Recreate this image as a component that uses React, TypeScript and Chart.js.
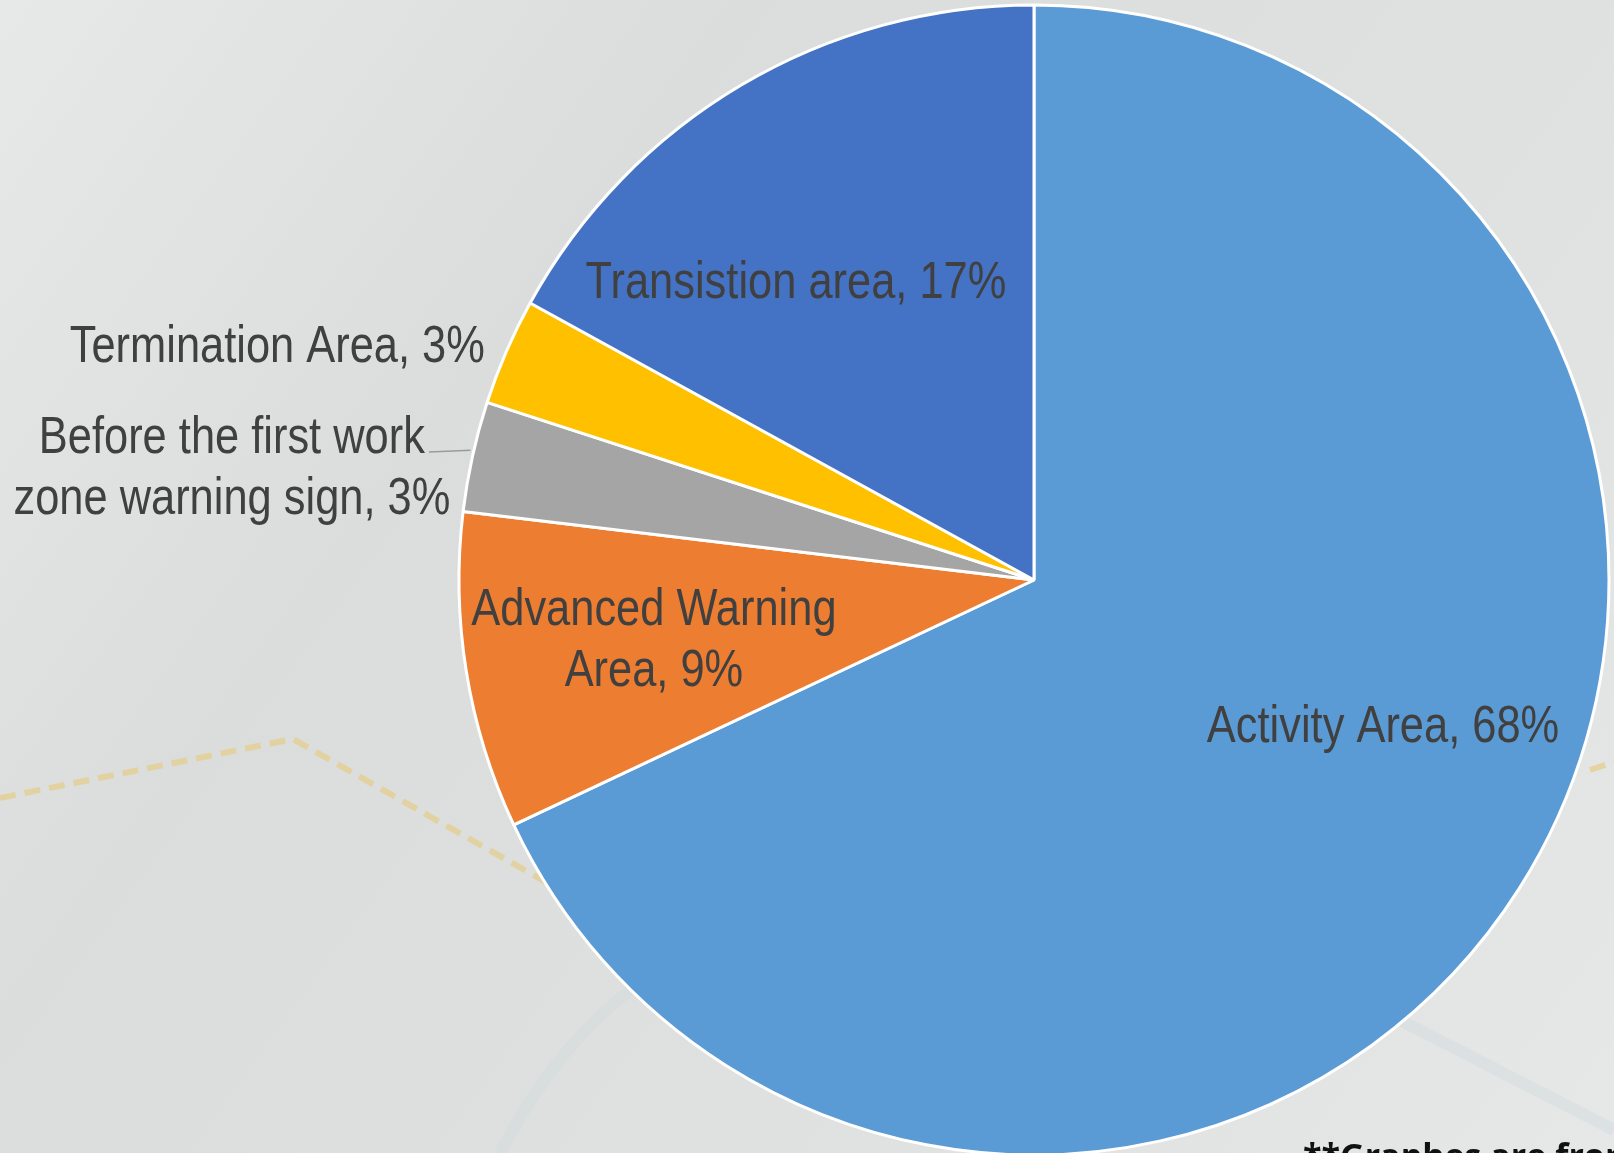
import React, { useEffect, useRef } from "react";
import { Chart, registerables } from "chart.js";

Chart.register(...registerables);

const categories = [
  "Activity Area",
  "Advanced Warning Area",
  "Before the first work zone warning sign",
  "Termination Area",
  "Transistion area",
];
const shares = [68.0, 8.9, 3.1, 3.0, 17.0];
const sliceColors = ["#5B9BD5", "#ED7D31", "#A5A5A5", "#FFC000", "#4472C4"];
// label text lines (split as in the source); percent appended from data
const labelLines = [
  ["Activity Area, {p}"],
  ["Advanced Warning", "Area, {p}"],
  ["Before the first work", "zone warning sign, {p}"],
  ["Termination Area, {p}"],
  ["Transistion area, {p}"],
];
// label anchor (centre x, first baseline y) relative to pie centre, in radius units
const labelAnchors = [
  [0.607, 0.282],
  [-0.661, 0.078],
  [-1.395, -0.221],
  [-1.316, -0.379],
  [-0.414, -0.49],
];
const footnote = "**Graphes are from";

const W = 1614;
const H = 1170;

const LABEL_FONT = '52px "Liberation Sans", Arial, sans-serif';
const NARROW = 0.835; // horizontal condensing to mimic a narrow face

const bgPlugin = {
  id: "bg",
  beforeDraw(chart: any) {
    const ctx = chart.ctx;
    ctx.save();
    const g = ctx.createLinearGradient(0, 0, W, H);
    g.addColorStop(0, "#e7e9e8");
    g.addColorStop(0.3, "#dbdddc");
    g.addColorStop(0.7, "#e0e2e1");
    g.addColorStop(1, "#e6e8e7");
    ctx.fillStyle = g;
    ctx.fillRect(0, 0, W, H);
    // faint road lines
    ctx.strokeStyle = "rgba(208,218,222,0.45)";
    ctx.lineWidth = 12;
    ctx.beginPath();
    ctx.moveTo(1400, 1020);
    ctx.lineTo(1614, 1130);
    ctx.stroke();
    ctx.beginPath();
    ctx.moveTo(500, 1153);
    ctx.quadraticCurveTo(580, 1000, 700, 950);
    ctx.stroke();
    // dashed yellow route
    ctx.strokeStyle = "rgba(228,205,140,0.75)";
    ctx.lineWidth = 6;
    ctx.setLineDash([16, 9]);
    ctx.beginPath();
    ctx.moveTo(0, 798);
    ctx.lineTo(293, 739);
    ctx.lineTo(560, 890);
    ctx.stroke();
    ctx.beginPath();
    ctx.moveTo(1590, 770);
    ctx.lineTo(1614, 762);
    ctx.stroke();
    ctx.restore();
  },
};

function narrowText(ctx: CanvasRenderingContext2D, text: string, x: number, y: number) {
  ctx.save();
  ctx.translate(x, y);
  ctx.scale(NARROW, 1);
  ctx.fillText(text, 0, 0);
  ctx.restore();
  return ctx.measureText(text).width * NARROW;
}

const labelPlugin = {
  id: "sliceLabels",
  afterDraw(chart: any) {
    const ctx = chart.ctx;
    const meta = chart.getDatasetMeta(0);
    const arc0 = meta.data[0];
    const { x: cx, y: cy, outerRadius: R } = arc0.getProps(["x", "y", "outerRadius"], true);
    const data = chart.data.datasets[0].data as number[];
    const total = data.reduce((a, b) => a + b, 0);
    ctx.save();
    ctx.font = LABEL_FONT;
    ctx.fillStyle = "#404040";
    ctx.textAlign = "center";
    ctx.textBaseline = "alphabetic";
    let leaderStart = 0;
    data.forEach((v, i) => {
      const pct = Math.round((v / total) * 100) + "%";
      const [ax, ay] = labelAnchors[i];
      const lx = cx + ax * R;
      const ly = cy + ay * R;
      labelLines[i].forEach((line, j) => {
        const w = narrowText(ctx, line.replace("{p}", pct), lx, ly + j * 61);
        if (i === 2 && j === 0) leaderStart = lx + w / 2 + 4;
      });
    });
    // leader line for the small grey slice
    const grey = meta.data[2];
    const gp = grey.getProps(["startAngle", "endAngle"], true);
    const mid = (gp.startAngle + gp.endAngle) / 2;
    const ex = cx + Math.cos(mid) * R;
    const ey = cy + Math.sin(mid) * R;
    ctx.strokeStyle = "#9a9a9a";
    ctx.lineWidth = 1.5;
    ctx.beginPath();
    ctx.moveTo(leaderStart, cy + labelAnchors[2][1] * R - 1);
    ctx.lineTo(ex - 2, ey - 6);
    ctx.stroke();
    // footnote
    ctx.font = 'bold 34px "Open Sans", "Liberation Sans", Arial, sans-serif';
    ctx.fillStyle = "#111111";
    ctx.textAlign = "left";
    ctx.fillText(footnote, 1303, 1168);
    ctx.restore();
  },
};

export default function App() {
  const ref = useRef<HTMLCanvasElement | null>(null);
  useEffect(() => {
    document.body.style.margin = "0";
    const chart = new Chart(ref.current as HTMLCanvasElement, {
      type: "pie",
      data: {
        labels: categories,
        datasets: [
          {
            data: shares,
            backgroundColor: sliceColors,
            borderColor: "#ffffff",
            borderWidth: 3,
          },
        ],
      },
      options: {
        responsive: false,
        animation: false,
        layout: { padding: { left: 457.5, right: 3.5, top: 3.5, bottom: 13.5 } },
        plugins: { legend: { display: false }, tooltip: { enabled: false } },
      },
      plugins: [bgPlugin, labelPlugin],
    });
    return () => chart.destroy();
  }, []);
  return (
    <div style={{ position: "fixed", left: 0, top: 0, width: W, height: 1153, overflow: "hidden" }}>
      <canvas ref={ref} width={W} height={H} style={{ display: "block", width: W, height: H }} />
    </div>
  );
}
